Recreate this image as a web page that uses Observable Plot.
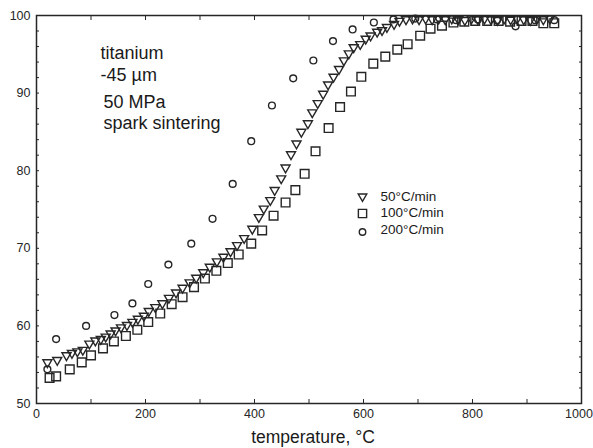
<!DOCTYPE html>
<html><head><meta charset="utf-8">
<script src="https://cdn.jsdelivr.net/npm/d3@7"></script>
<script src="https://cdn.jsdelivr.net/npm/@observablehq/plot@0.6"></script>
<style>body{margin:0;background:#fff}</style>
</head><body><div id="chart"></div>
<script>
// 50°C/min (triangles)
const t50 = [20,38,55,65,75,85,97,108,118,127,136,145,155,166,176,186,197,206,218,231,243,256,268,281,293,306,318,331,343,356,368,381,396,408,417,429,437,449,457,467,477,486,498,506,516,526,535,545,555,564,573,582,594,604,613,625,634,643,656,666,678,690,702,714,726,738,750,762,774,786,798,810,822,834,846,858,870,882,894,906,918,930,942];
const d50 = [55.3,55.6,56.2,56.5,56.7,56.9,57.7,58.1,58.3,58.6,59.0,59.4,59.8,60.1,60.5,60.9,61.3,61.9,62.4,62.9,63.6,64.3,64.9,65.6,66.2,66.9,67.6,68.3,68.9,69.6,70.4,71.3,72.5,74.0,75.1,76.2,77.5,79.0,80.4,82.1,83.5,85.0,86.1,87.5,88.7,89.9,91.1,92.1,93.1,94.2,95.1,95.9,96.3,97.0,97.4,97.9,98.1,98.5,98.9,99.3,99.5,99.6,99.5,99.6,99.5,99.6,99.5,99.6,99.5,99.4,99.6,99.5,99.6,99.5,99.4,99.6,99.5,99.6,99.5,99.4,99.6,99.5,99.6];
// 100°C/min (squares)
const t100 = [24,36,61,83,100,122,142,164,185,205,227,248,268,289,309,330,351,371,394,414,435,457,475,492,512,536,557,577,596,618,640,662,681,704,723,744,765,785,805,827,848,869,890,910,930,950];
const d100 = [53.3,53.5,54.4,55.3,56.2,57.1,58.0,58.7,59.5,60.5,61.6,62.8,63.7,65.0,66.1,67.1,68.1,69.2,70.6,72.3,74.2,75.9,77.5,79.6,82.5,85.5,88.2,90.2,92.1,93.8,94.7,95.6,96.3,97.4,98.3,98.7,99.1,99.2,99.3,99.3,99.3,99.2,99.3,99.3,99.0,99.0];
// 200°C/min (circles)
const t200 = [20,36,91,143,176,205,242,284,323,360,394,432,471,508,544,580,619,655,695,735,770,810,845,879,915,950];
const d200 = [54.4,58.3,60.0,61.4,62.9,65.4,67.9,70.6,73.8,78.3,83.8,88.4,91.9,94.2,96.7,98.2,99.1,99.5,99.6,99.5,99.4,99.5,99.4,98.6,99.4,99.4];

const xTickLabels = [0, 200, 400, 600, 800];
const xLastTick = [1000];
const yTickLabels = [50, 60, 70, 80, 90, 100];
const legendLabels = ["50°C/min","100°C/min","200°C/min"];
const notes = ["titanium","-45 µm","50 MPa","spark sintering"];
const xLabel = "temperature, °C";

const triangleDown = {
  draw(ctx, size) {
    const a = Math.sqrt(size * 4 / Math.sqrt(3)), h = a * Math.sqrt(3) / 2;
    ctx.moveTo(0, 2 * h / 3);
    ctx.lineTo(-a / 2, -h / 3);
    ctx.lineTo(a / 2, -h / 3);
    ctx.closePath();
  }
};
const symbols = [triangleDown, d3.symbolSquare, d3.symbolCircle];
const radii = [3.35, 4.9, 3.4];

const series = [
  t50.map((t, i) => ({t, d: d50[i]})),
  t100.map((t, i) => ({t, d: d100[i]})),
  t200.map((t, i) => ({t, d: d200[i]}))
];

const ink = "#262626";
const marks = [
  Plot.frame({stroke: ink, strokeWidth: 1.5}),
  Plot.axisX({anchor: "bottom", ticks: xTickLabels, tickFormat: d3.format("d"), tickSize: 0, tickPadding: 6, label: null, fontSize: 12.5, fill: ink}),
  Plot.axisX({anchor: "bottom", ticks: xLastTick, tickFormat: d3.format("d"), tickSize: 0, tickPadding: 6, label: null, fontSize: 12.5, fill: ink, dx: -2.5}),
  Plot.axisY({anchor: "left", ticks: yTickLabels, tickFormat: d3.format("d"), tickSize: 0, tickPadding: 6, label: null, fontSize: 12.5, fill: ink}),
  Plot.axisX({anchor: "bottom", ticks: d3.range(0, 1001, 100), tickSize: -4, tickFormat: () => "", label: null, stroke: ink}),
  Plot.axisX({anchor: "top", ticks: d3.range(0, 1001, 100), tickSize: -4, tickFormat: () => "", label: null, stroke: ink}),
  Plot.axisY({anchor: "left", ticks: d3.range(50, 101, 2), tickSize: -3, tickFormat: () => "", label: null, stroke: ink}),
  Plot.axisY({anchor: "right", ticks: d3.range(50, 101, 2), tickSize: -3, tickFormat: () => "", label: null, stroke: ink}),
  ...series.map((s, k) => Plot.dot(s, {x: "t", y: "d", symbol: symbols[k], r: radii[k], stroke: ink, strokeWidth: 1.4, fill: "none"})),
  ...notes.map((n, i) => Plot.text([n], {frameAnchor: "top-left", dx: i < 2 ? 64 : 67, dy: [38, 60, 87, 108][i], text: d => d, textAnchor: "start", lineAnchor: "middle", fontSize: 18, fill: "#1a1a1a"})),
  ...legendLabels.map((l, i) => Plot.dot([l], {frameAnchor: "top-left", dx: 326, dy: [181, 198, 216.5][i], symbol: symbols[i], r: radii[i] * 0.95, stroke: ink, strokeWidth: 1.4, fill: "none"})),
  ...legendLabels.map((l, i) => Plot.text([l], {frameAnchor: "top-left", dx: 344, dy: [181, 197.5, 214][i], text: d => d, textAnchor: "start", lineAnchor: "middle", fontSize: 13.5, fill: "#1a1a1a"})),
  Plot.text([xLabel], {frameAnchor: "bottom", dx: 4, dy: 34, text: d => d, lineAnchor: "middle", fontSize: 17.5, fill: "#1a1a1a"})
];

const chart = Plot.plot({
  width: 593, height: 448,
  marginLeft: 36, marginRight: 12, marginTop: 15, marginBottom: 45,
  x: {domain: [0, 1000]},
  y: {domain: [50, 100]},
  style: {fontFamily: "'Liberation Sans', Arial, sans-serif", background: "#fff", overflow: "visible"},
  marks
});
document.getElementById("chart").appendChild(chart);
</script>
</body></html>
